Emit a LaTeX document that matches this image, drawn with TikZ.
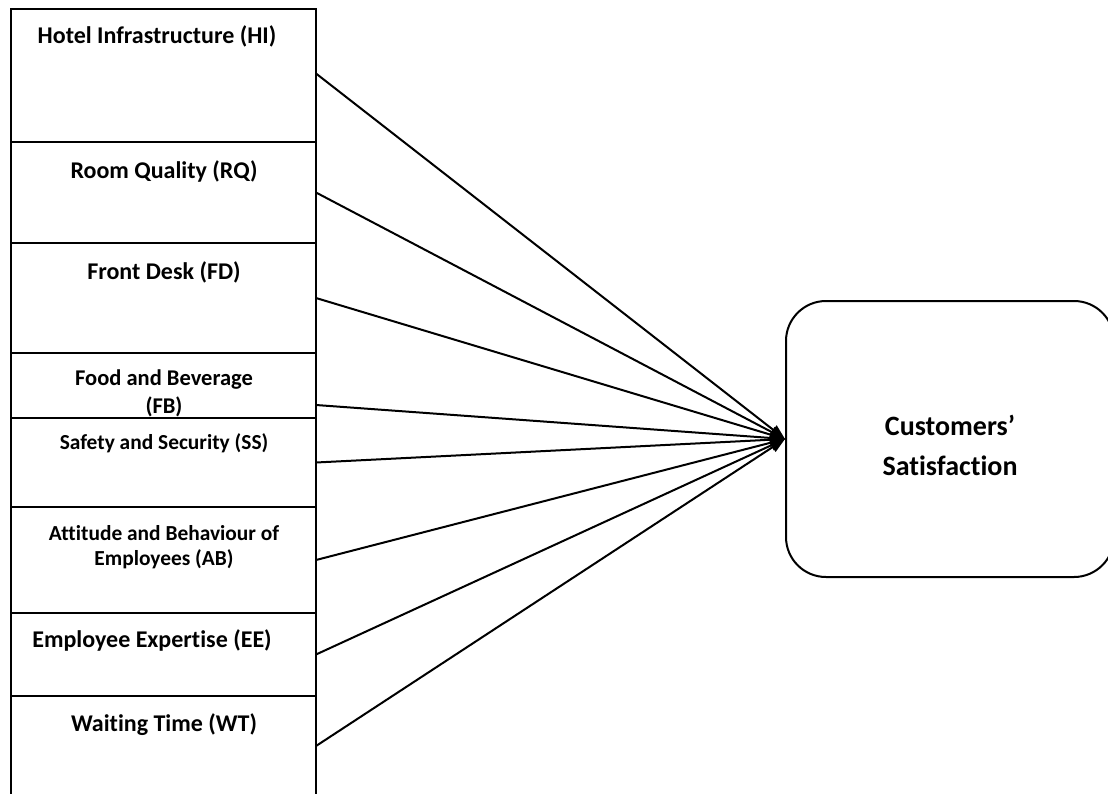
\documentclass[tikz,border=0pt]{standalone}
\usepackage{fontspec}
\setmainfont{Carlito}[Ligatures={NoCommon}]
\usetikzlibrary{arrows.meta,calc}
\begin{document}
\begin{tikzpicture}[x=1pt,y=-1pt,
  factor/.style={draw,line width=2pt,rectangle,inner sep=0pt,outer sep=0pt,minimum width=305pt,anchor=north west},
  lbl/.style={font=\bfseries\fontsize{24}{28}\selectfont,anchor=base,inner sep=0pt,align=center},
  lblsmall/.style={font=\bfseries\fontsize{21.4}{25}\selectfont,anchor=base,inner sep=0pt,align=center},
  target/.style={draw,line width=2pt,rectangle,rounded corners=40pt,inner sep=0pt,minimum width=328pt,minimum height=276pt,anchor=north west},
  link/.style={line width=2pt,-{Triangle[length=15pt,width=11pt]}}]
\useasboundingbox (0,0) rectangle (1108,793);
\begin{scope}
\clip (0,0) rectangle (1108,793);
% factor boxes
\node[factor,minimum height=133pt] (HI) at (11,9) {};
\node[factor,minimum height=101pt] (RQ) at (11,142) {};
\node[factor,minimum height=110pt] (FD) at (11,243) {};
\node[factor,minimum height=65pt] (FB) at (11,353) {};
\node[factor,minimum height=89pt] (SS) at (11,418) {};
\node[factor,minimum height=106pt] (AB) at (11,507) {};
\node[factor,minimum height=83pt] (EE) at (11,613) {};
\node[factor,minimum height=100pt] (WT) at (11,696) {};
% target box
\node[target] (CS) at (785,300) {};
\end{scope}
% labels
\node[lbl] (HIt) at (157,43) {Hotel Infrastructure (HI)};
\node[lbl] (RQt) at (164,178) {Room Quality (RQ)};
\node[lbl] (FDt) at (164,279) {Front Desk (FD)};
\node[font=\bfseries\fontsize{22.5}{28}\selectfont,anchor=base,inner sep=0pt] (FBt) at (164,385) {Food and Beverage};
\node[font=\bfseries\fontsize{22.5}{28}\selectfont,anchor=base,inner sep=0pt] (FBt2) at (164,413) {(FB)};
\node[lblsmall] (SSt) at (164,449) {Safety and Security (SS)};
\node[lblsmall] (ABt) at (164,540) {Attitude and Behaviour of};
\node[lblsmall] (ABt2) at (164,565) {Employees (AB)};
\node[lbl] (EEt) at (152,647) {Employee Expertise (EE)};
\node[lbl] (WTt) at (164,731) {Waiting Time (WT)};
\node[font=\bfseries\fontsize{28}{34}\selectfont,anchor=base,inner sep=0pt] (CSt) at (950,435) {Customers’};
\node[font=\bfseries\fontsize{28}{34}\selectfont,anchor=base,inner sep=0pt] (CSt2) at (950,475) {Satisfaction};
% connectors
\coordinate (FBout) at ($(FB.south east)+(0,-13)$);
\draw[link] ($(HI.east)+(0,-2)$) -- (CS.west);
\draw[link] (RQ.east) -- (CS.west);
\draw[link] (FD.east) -- (CS.west);
\draw[link] (FBout) -- (CS.west);
\draw[link] (SS.east) -- (CS.west);
\draw[link] (AB.east) -- (CS.west);
\draw[link] (EE.east) -- (CS.west);
\draw[link] (WT.east) -- (CS.west);
\end{tikzpicture}
\end{document}
